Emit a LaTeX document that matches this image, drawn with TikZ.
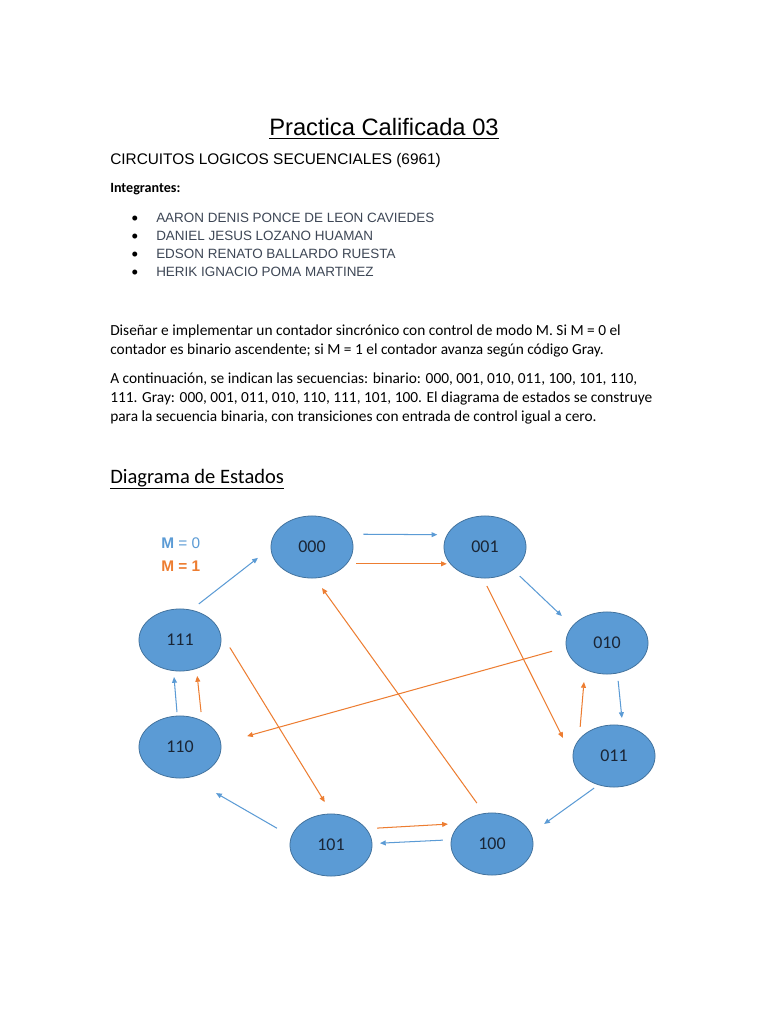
\documentclass[tikz,border=0pt]{standalone}
\usepackage{fontspec}
\setmainfont{Carlito}
\newfontfamily\arialfont{Liberation Sans}
\usetikzlibrary{arrows.meta,shapes.geometric}
\definecolor{mzero}{HTML}{5B9BD5}
\definecolor{mone}{HTML}{ED7D31}
\definecolor{stateline}{HTML}{41719C}
\definecolor{statetext}{HTML}{1A2535}
\definecolor{nametext}{HTML}{3E4756}
\tikzset{
  estado/.style={ellipse,draw=stateline,fill=mzero,line width=0.6pt,
    minimum width=64pt,minimum height=48.4pt,inner sep=0pt,outer sep=0pt,
    text=statetext,font=\fontsize{14}{16}\selectfont},
  tzero/.style={mzero,line width=0.8pt,-{Triangle[length=4.5pt,width=3.8pt]}},
  tone/.style={mone,line width=0.8pt,-{Triangle[length=4.5pt,width=3.8pt]}},
  texto/.style={anchor=base west,inner sep=0pt},
  linea/.style={texto,font=\fontsize{12}{14}\selectfont}
}
\begin{document}
\begin{tikzpicture}[x=0.78pt,y=-0.78pt]
  \useasboundingbox[fill=white] (0,0) rectangle (768,1024);
  % Header
  \node[anchor=base,inner sep=0pt,font=\arialfont\fontsize{18.5}{22}\selectfont] (title) at (384,136) {\underline{Practica Calificada 03}};
  \node[texto,font=\arialfont\fontsize{12}{14}\selectfont] (curso) at (110,165) {CIRCUITOS LOGICOS SECUENCIALES (6961)};
  \node[texto,font=\bfseries\fontsize{11}{13}\selectfont] (integ) at (110,193) {Integrantes:};
  \foreach \i/\y/\name in {1/223/AARON DENIS PONCE DE LEON CAVIEDES,
                           2/241/DANIEL JESUS LOZANO HUAMAN,
                           3/259/EDSON RENATO BALLARDO RUESTA,
                           4/277/HERIK IGNACIO POMA MARTINEZ}
  {
    \node[anchor=base,inner sep=0pt,font=\fontsize{11}{13}\selectfont] (bul\i) at (135,\y) {\textbullet};
    \node[texto,text=nametext,font=\arialfont\fontsize{10.5}{12}\selectfont] (mem\i) at (156,\y) {\name};
  }
  % Statement
  \node[linea] (par1) at (110,335) {Diseñar e implementar un contador sincrónico con control de modo M. Si M = 0 el};
  \node[linea] (par2) at (110,354.5) {contador es binario ascendente; si M = 1 el contador avanza según código Gray.};
  \node[linea] (par3) at (110,383.5) {A continuación, se indican las secuencias: binario: 000, 001, 010, 011, 100, 101, 110,};
  \node[linea] (par4) at (110,402.5) {111. Gray: 000, 001, 011, 010, 110, 111, 101, 100. El diagrama de estados se construye};
  \node[linea] (par5) at (110,421.5) {para la secuencia binaria, con transiciones con entrada de control igual a cero.};
  \node[texto,font=\fontsize{16}{19}\selectfont] (diag) at (110,483) {\underline{Diagrama de Estados}};
  % Legend
  \node[texto,text=mzero,font=\arialfont\fontsize{12}{14}\selectfont] (leg0) at (161,548) {\textbf{M} = 0};
  \node[texto,text=mone,font=\arialfont\bfseries\fontsize{12}{14}\selectfont] (leg1) at (161,571) {M = 1};
  % States
  \foreach \s/\x/\y in {000/312/547, 001/485/547, 010/607/643, 011/614/756,
                        100/492/844, 101/331/845, 110/180/747, 111/180/640}
    \node[estado] (s\s) at (\x,\y) {\s};
  % M = 0: binary count
  \foreach \a/\p/\b/\q/\u/\v in {000/19/001/162/10.9pt/7.8pt,
                                 001/-39/010/154/7.3pt/11.5pt,
                                 010/-71/011/74/6.2pt/6pt,
                                 011/-118/100/15/4.4pt/12.9pt,
                                 100/174/101/2/6.6pt/6.2pt,
                                 101/168/110/-74/13.1pt/24.6pt,
                                 110/95/111/-102/3.1pt/5pt,
                                 111/70/000/181/7.8pt/12.9pt}
    \draw[tzero,shorten <=\u,shorten >=\v] (s\a.\p) -- (s\b.\q);
  % M = 1: Gray count
  \foreach \a/\p/\b/\q/\u/\v in {000/-26/001/206/7.6pt/2.9pt,
                                 001/-94/011/183/7pt/17.6pt,
                                 011/155/010/-130/10.1pt/10pt,
                                 010/186/110/5/11.6pt/21.3pt,
                                 110/50/111/-60/6.9pt/5.9pt,
                                 111/20/101/88/19.2pt/10.9pt,
                                 101/25/100/146/8.7pt/10.5pt,
                                 100/104/000/-85/10.1pt/9.7pt}
    \draw[tone,shorten <=\u,shorten >=\v] (s\a.\p) -- (s\b.\q);
\end{tikzpicture}
\end{document}
